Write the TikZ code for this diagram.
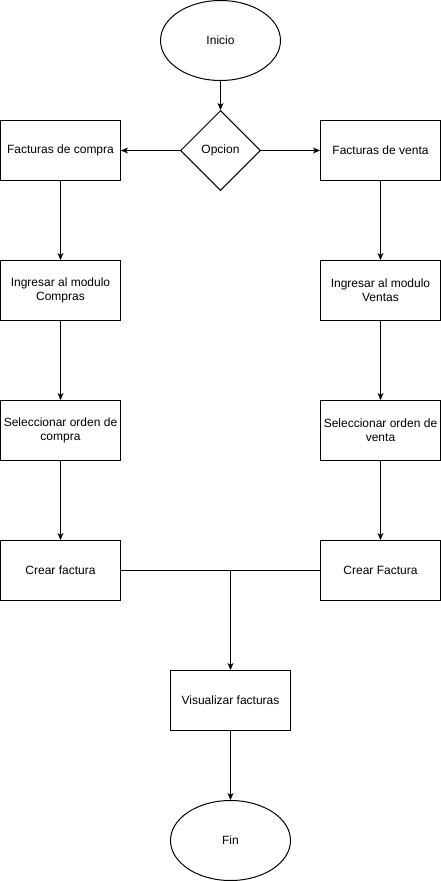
\documentclass[tikz,border=0pt]{standalone}
\usepackage{fontspec}
\setmainfont{Liberation Sans}
\usetikzlibrary{shapes.geometric,arrows.meta}
\tikzset{every path/.style={black,line width=1pt},
  every node/.style={font=\fontsize{12}{14}\selectfont, inner sep=0pt, align=center},
  caja/.style={draw, rectangle, minimum width=120pt, minimum height=60pt},
  terminal/.style={draw, ellipse, minimum width=120pt, minimum height=80pt},
  decision/.style={draw, diamond, minimum width=80pt, minimum height=80pt},
  flecha/.style={-{Stealth[length=7pt,width=6pt,inset=2pt]}}}

\begin{document}
\begin{tikzpicture}[x=1pt,y=-1pt]
   \useasboundingbox (0,0) rectangle (441,881);
   % inicio y opcion
   \node[terminal] (ini) at (220.5,40.5) {Inicio};
   \node[decision] (opc) at (220.5,150.5) {Opcion};
   % columna de compras
   \node[caja] (fc) at (60.5,150.5) {Facturas de compra};
   \node[caja] (imc) at (60.5,290.5) {Ingresar al modulo\\Compras};
   \node[caja] (soc) at (60.5,430.5) {Seleccionar orden de\\compra};
   \node[caja] (cfc) at (60.5,570.5) {Crear factura};
   % columna de ventas
   \node[caja] (fv) at (380.5,150.5) {Facturas de venta};
   \node[caja] (imv) at (380.5,290.5) {Ingresar al modulo\\Ventas};
   \node[caja] (sov) at (380.5,430.5) {Seleccionar orden de\\venta};
   \node[caja] (cfv) at (380.5,570.5) {Crear Factura};
   % final
   \node[caja] (vis) at (230.5,700.5) {Visualizar facturas};
   \node[terminal] (fin) at (230.5,840.5) {Fin};
   \coordinate (j) at (230.5,570.5);

   \draw[flecha] (ini) -- (opc);
   \draw[flecha] (opc) -- (fc);
   \draw[flecha] (opc) -- (fv);
   \draw[flecha] (fc) -- (imc);
   \draw[flecha] (imc) -- (soc);
   \draw[flecha] (soc) -- (cfc);
   \draw[flecha] (fv) -- (imv);
   \draw[flecha] (imv) -- (sov);
   \draw[flecha] (sov) -- (cfv);
   \draw (cfc) -- (cfv);
   \draw[flecha] (j) -- (vis);
   \draw[flecha] (vis) -- (fin);
\end{tikzpicture}
\end{document}
